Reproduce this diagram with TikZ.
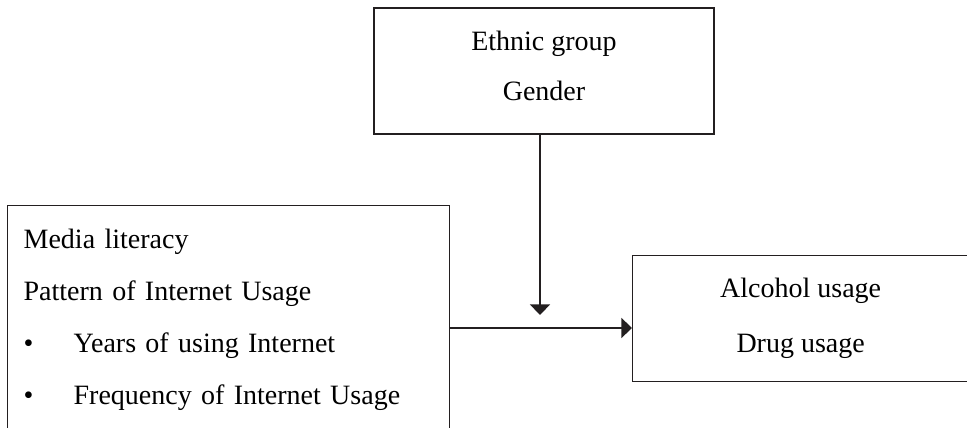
\documentclass[tikz,border=0pt]{standalone}
\usepackage{fontspec}
\setmainfont{Liberation Serif}
\usetikzlibrary{arrows.meta,calc}
\definecolor{inkgray}{RGB}{35,31,32}
\tikzset{
	varbox/.style={draw=inkgray, line width=1pt, inner sep=0pt, font=\fontsize{21}{39}\selectfont},
	link/.style={draw=inkgray, line width=1.5pt, -{Triangle[length=8pt,width=15pt]}}
}
\begin{document}
\begin{tikzpicture}[x=0.75pt, y=-0.75pt, line join=miter]
	\useasboundingbox (0,0) rectangle (967,428);
	\clip (0,0) rectangle (967,428);
	% moderators
	\node[varbox, align=center, minimum width=255pt, minimum height=94.5pt] (ethnic) at (544,71) {Ethnic group\\[-1.5pt]Gender\rule[-8.25pt]{0pt}{8.25pt}};
	% independent variables
	\node[varbox, anchor=north west, align=left, text width=307.5pt, inner xsep=12pt, inner ysep=17.25pt] (media) at (7,205) {Media literacy\\Pattern of Internet Usage\\\makebox[37.5pt][l]{\textbullet}Years of using Internet\\\makebox[37.5pt][l]{\textbullet}Frequency of Internet Usage};
	% outcomes
	\node[varbox, anchor=north west, align=center, minimum width=252pt, minimum height=94.5pt] (outcome) at (632,255) {Alcohol usage\\[2.25pt]Drug usage};
	\coordinate (join) at (540,328);
	\coordinate (modtip) at (540,315);
	\draw[link] (ethnic.south -| modtip) -- (modtip);
	\draw[link] (media.east |- join) -- (outcome.west |- join);
\end{tikzpicture}
\end{document}
